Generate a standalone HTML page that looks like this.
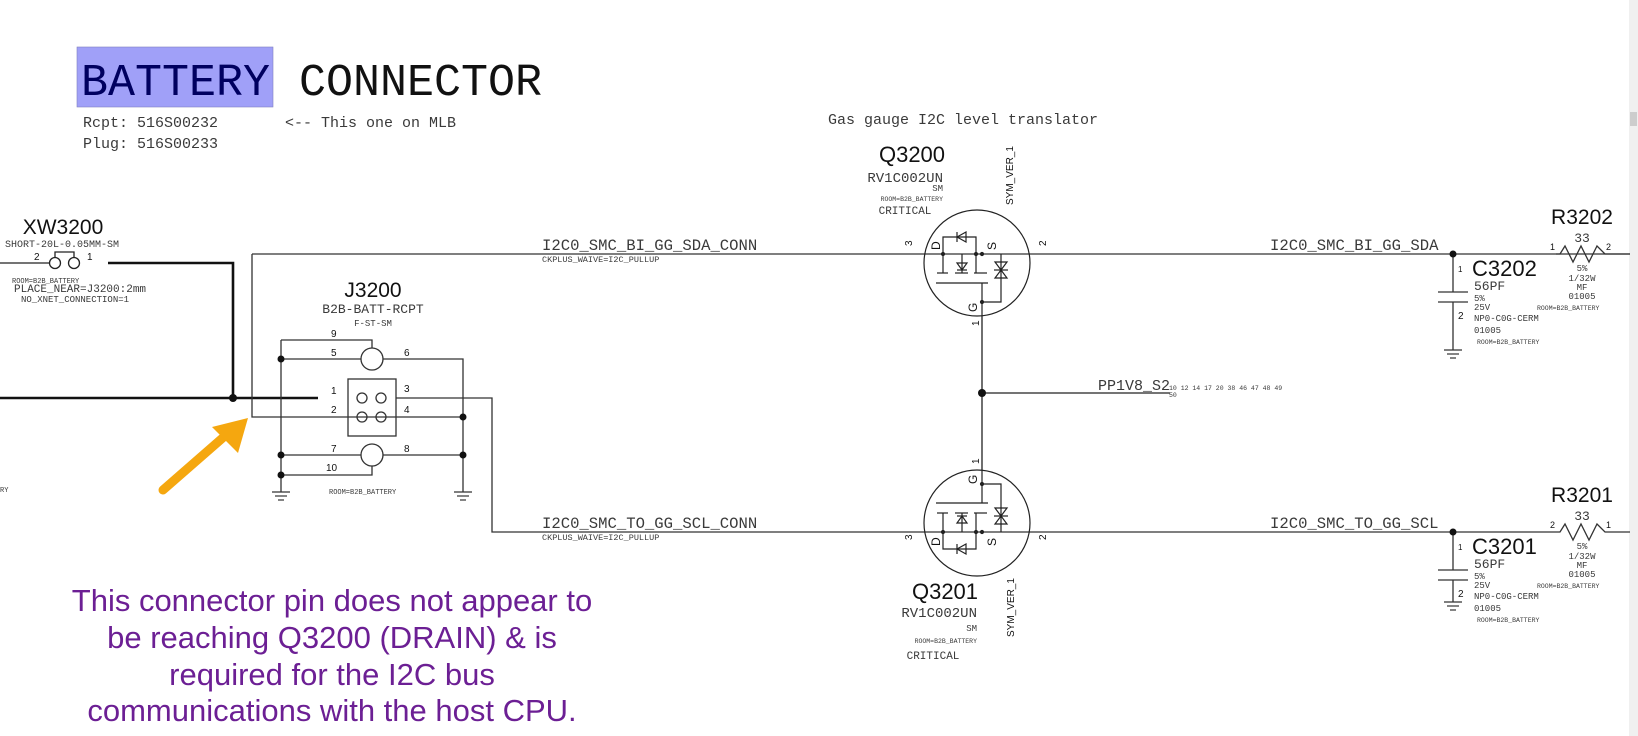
<!DOCTYPE html>
<html><head><meta charset="utf-8"><style>
html,body{margin:0;padding:0;background:#fff;width:1638px;height:736px;overflow:hidden}
svg{display:block}
.m{font-family:"Liberation Mono",monospace;fill:#3a3a3a}
.s{font-family:"Liberation Sans",sans-serif;fill:#111}
</style></head><body>
<svg width="1638" height="736" viewBox="0 0 1638 736" xmlns="http://www.w3.org/2000/svg">
<defs>
<g id="fet" fill="none" stroke="#222" stroke-width="1.2">
  <circle cx="977" cy="263" r="53"/>
  <polyline points="943,254 943,237 976,237 976,254"/>
  <polygon points="957,237 966,232 966,242" fill="none"/>
  <line x1="957" y1="232" x2="957" y2="242"/>
  <line x1="943" y1="254" x2="943" y2="273"/>
  <line x1="937" y1="273" x2="948" y2="273"/>
  <line x1="955" y1="273" x2="968" y2="273"/>
  <line x1="974" y1="273" x2="987" y2="273"/>
  <line x1="936" y1="283" x2="988" y2="283"/>
  <line x1="962" y1="254" x2="962" y2="273"/>
  <polygon points="957,263 967,263 962,270"/>
  <line x1="957" y1="270" x2="967" y2="270"/>
  <line x1="976" y1="254" x2="976" y2="273"/>
  <line x1="982" y1="283" x2="982" y2="316"/>
  <polyline points="982,302 1001,302 1001,254"/>
  <polygon points="995,262 1007,262 1001,270"/>
  <polygon points="995,278 1007,278 1001,270"/>
  <line x1="994" y1="270" x2="1008" y2="270"/>
  <circle cx="943" cy="254" r="1.5" fill="#222"/>
  <circle cx="976" cy="254" r="1.5" fill="#222"/>
  <circle cx="982" cy="254" r="1.5" fill="#222"/>
  <circle cx="982" cy="302" r="1.5" fill="#222"/>
</g>
<g id="gnd" stroke="#333" stroke-width="1.2">
  <line x1="-9" y1="0" x2="9" y2="0"/><line x1="-6" y1="4" x2="6" y2="4"/><line x1="-3" y1="8" x2="3" y2="8"/>
</g>
</defs>

<rect x="1629" y="0" width="9" height="736" fill="#f0f0f0"/>
<rect x="1630" y="112" width="7" height="14" fill="#cdcdcd"/>

<!-- Title -->
<rect x="77" y="47" width="196" height="60" fill="#a0a0f8" stroke="#8080c0" stroke-width="0.6"/>
<text x="81" y="95" style="font-family:'Liberation Mono',monospace;font-size:45px;fill:#000060">BATTERY</text>
<text x="299" y="95" style="font-family:'Liberation Mono',monospace;font-size:45px;fill:#111">CONNECTOR</text>
<text x="83" y="127" class="m" font-size="15">Rcpt: 516S00232</text>
<text x="83" y="148" class="m" font-size="15">Plug: 516S00233</text>
<text x="285" y="127" class="m" font-size="15">&lt;-- This one on MLB</text>
<text x="828" y="124" class="m" font-size="15">Gas gauge I2C level translator</text>

<!-- XW3200 -->
<text x="63" y="234" class="s" font-size="21" text-anchor="middle">XW3200</text>
<text x="5" y="247" class="m" font-size="10">SHORT-20L-0.05MM-SM</text>
<text x="34" y="260" class="s" font-size="10">2</text>
<text x="87" y="260" class="s" font-size="10">1</text>
<g fill="none" stroke="#222" stroke-width="1.3">
 <polyline points="55,258 55,252 74,252 74,258"/>
 <circle cx="55" cy="263" r="5.5"/><circle cx="74" cy="263" r="5.5"/>
 <line x1="0" y1="263" x2="49" y2="263"/>
</g>
<text x="12" y="283" class="m" font-size="7">ROOM=B2B_BATTERY</text>
<text x="14" y="292" class="m" font-size="11">PLACE_NEAR=J3200:2mm</text>
<text x="21" y="302" class="m" font-size="9">NO_XNET_CONNECTION=1</text>
<text x="0" y="492" class="m" font-size="7">RY</text>
<g fill="none" stroke="#111" stroke-width="2.6">
 <polyline points="108,263 233,263 233,398"/>
 <line x1="0" y1="398" x2="318" y2="398"/>
</g>
<circle cx="233" cy="398" r="4" fill="#111"/>

<!-- J3200 -->
<text x="373" y="297" class="s" font-size="21" text-anchor="middle">J3200</text>
<text x="373" y="313" class="m" font-size="13" text-anchor="middle">B2B-BATT-RCPT</text>
<text x="373" y="326" class="m" font-size="9" text-anchor="middle">F-ST-SM</text>
<g class="s" font-size="10">
<text x="331" y="337">9</text><text x="331" y="356">5</text><text x="404" y="356">6</text>
<text x="331" y="394">1</text><text x="331" y="413">2</text><text x="404" y="392">3</text><text x="404" y="413">4</text>
<text x="331" y="452">7</text><text x="326" y="471">10</text><text x="404" y="452">8</text>
</g>
<g fill="none" stroke="#333" stroke-width="1.3">
 <polyline points="252,254 252,417 463,417"/>
 <polyline points="281,340 372,340 372,348"/>
 <line x1="281" y1="359" x2="361" y2="359"/>
 <circle cx="372" cy="359" r="11"/>
 <polyline points="383,359 463,359 463,492"/>
 <line x1="281" y1="340" x2="281" y2="492"/>
 <rect x="348" y="379" width="48" height="57"/>
 <circle cx="362" cy="398" r="5"/><circle cx="381" cy="398" r="5"/>
 <circle cx="362" cy="417" r="5"/><circle cx="381" cy="417" r="5"/>
 <polyline points="396,398 492,398 492,532 1453,532"/>
 <line x1="281" y1="455" x2="361" y2="455"/>
 <circle cx="372" cy="455" r="11"/>
 <line x1="383" y1="455" x2="463" y2="455"/>
 <polyline points="281,475 372,475 372,466"/>
 <line x1="252" y1="254" x2="1630" y2="254"/>
</g>
<g fill="#111">
 <circle cx="281" cy="359" r="3.5"/><circle cx="281" cy="455" r="3.5"/><circle cx="281" cy="475" r="3.5"/>
 <circle cx="463" cy="417" r="3.5"/><circle cx="463" cy="455" r="3.5"/>
</g>
<use href="#gnd" transform="translate(281,492)"/>
<use href="#gnd" transform="translate(463,492)"/>
<text x="329" y="494" class="m" font-size="7">ROOM=B2B_BATTERY</text>

<!-- arrow -->
<g stroke="#f5a70f" stroke-width="9" stroke-linecap="round" fill="#f5a70f">
 <line x1="163" y1="490" x2="226" y2="435"/>
</g>
<polygon points="248,418 212,427 238,453" fill="#f5a70f"/>

<!-- net labels -->
<text x="542" y="250" class="m" font-size="15.6">I2C0_SMC_BI_GG_SDA_CONN</text>
<text x="542" y="262" class="m" font-size="8.5">CKPLUS_WAIVE=I2C_PULLUP</text>
<text x="542" y="528" class="m" font-size="15.6">I2C0_SMC_TO_GG_SCL_CONN</text>
<text x="542" y="540" class="m" font-size="8.5">CKPLUS_WAIVE=I2C_PULLUP</text>
<text x="1270" y="250" class="m" font-size="15.6">I2C0_SMC_BI_GG_SDA</text>
<text x="1270" y="528" class="m" font-size="15.6">I2C0_SMC_TO_GG_SCL</text>

<!-- Q3200 -->
<text x="912" y="162" class="s" font-size="22" text-anchor="middle">Q3200</text>
<text x="943" y="182" class="m" font-size="14" text-anchor="end">RV1C002UN</text>
<text x="943" y="191" class="m" font-size="9" text-anchor="end">SM</text>
<text x="943" y="201" class="m" font-size="6.5" text-anchor="end">ROOM=B2B_BATTERY</text>
<text x="905" y="214" class="m" font-size="11" text-anchor="middle">CRITICAL</text>
<text transform="translate(1013,205) rotate(-90)" class="s" font-size="10">SYM_VER_1</text>
<use href="#fet"/>
<g class="s" font-size="10">
<text transform="translate(912,246) rotate(-90)">3</text>
<text transform="translate(1046,246) rotate(-90)">2</text>
<text transform="translate(940,250) rotate(-90)" font-size="12">D</text>
<text transform="translate(996,250) rotate(-90)" font-size="12">S</text>
<text transform="translate(977,312) rotate(-90)" font-size="12">G</text>
<text transform="translate(979,326) rotate(-90)">1</text>
</g>
<g stroke="#222" stroke-width="1.3">
 <line x1="982" y1="316" x2="982" y2="470"/>
 <line x1="982" y1="393" x2="1170" y2="393"/>
</g>
<circle cx="982" cy="393" r="4" fill="#111"/>
<text x="1098" y="390" class="m" font-size="15">PP1V8_S2</text>
<text x="1169" y="390" class="m" font-size="6.5">10  12  14  17  20  38  46  47  48  49</text>
<text x="1169" y="397" class="m" font-size="6.5">50</text>

<!-- Q3201 -->
<use href="#fet" transform="translate(0,786) scale(1,-1)"/>
<g class="s" font-size="10">
<text transform="translate(912,540) rotate(-90)">3</text>
<text transform="translate(1046,540) rotate(-90)">2</text>
<text transform="translate(940,546) rotate(-90)" font-size="12">D</text>
<text transform="translate(996,546) rotate(-90)" font-size="12">S</text>
<text transform="translate(977,484) rotate(-90)" font-size="12">G</text>
<text transform="translate(979,464) rotate(-90)">1</text>
</g>
<text x="945" y="599" class="s" font-size="22" text-anchor="middle">Q3201</text>
<text x="977" y="617" class="m" font-size="14" text-anchor="end">RV1C002UN</text>
<text x="977" y="631" class="m" font-size="9" text-anchor="end">SM</text>
<text x="977" y="643" class="m" font-size="6.5" text-anchor="end">ROOM=B2B_BATTERY</text>
<text x="933" y="659" class="m" font-size="11" text-anchor="middle">CRITICAL</text>
<text transform="translate(1014,637) rotate(-90)" class="s" font-size="10">SYM_VER_1</text>

<!-- Right side: C3202/R3202 -->
<g fill="none" stroke="#333" stroke-width="1.3">
 <line x1="1453" y1="254" x2="1453" y2="292"/>
 <line x1="1438" y1="292" x2="1468" y2="292"/>
 <line x1="1438" y1="302" x2="1468" y2="302"/>
 <line x1="1453" y1="302" x2="1453" y2="350"/>
</g>
<use href="#gnd" transform="translate(1453,350)"/>
<circle cx="1453" cy="254" r="3.5" fill="#111"/>
<text x="1472" y="276" class="s" font-size="22">C3202</text>
<text x="1458" y="272" class="s" font-size="8">1</text>
<text x="1458" y="319" class="s" font-size="10">2</text>
<text x="1474" y="290" class="m" font-size="13">56PF</text>
<g class="m" font-size="9"><text x="1474" y="301">5%</text><text x="1474" y="310">25V</text><text x="1474" y="321">NP0-C0G-CERM</text><text x="1474" y="333">01005</text></g>
<text x="1477" y="344" class="m" font-size="6.5">ROOM=B2B_BATTERY</text>
<polyline points="1556,254 1560,254 1565,246 1573,262 1581,246 1589,262 1597,246 1605,254 1630,254" fill="none" stroke="#333" stroke-width="1.3"/>
<text x="1582" y="224" class="s" font-size="21" text-anchor="middle">R3202</text>
<text x="1582" y="242" class="m" font-size="13" text-anchor="middle">33</text>
<text x="1550" y="250" class="s" font-size="9">1</text><text x="1606" y="250" class="s" font-size="9">2</text>
<g class="m" font-size="9" text-anchor="middle"><text x="1582" y="271">5%</text><text x="1582" y="281">1/32W</text><text x="1582" y="290">MF</text><text x="1582" y="299">01005</text></g>
<text x="1537" y="310" class="m" font-size="6.5">ROOM=B2B_BATTERY</text>

<!-- C3201/R3201 -->
<g fill="none" stroke="#333" stroke-width="1.3">
 <line x1="1453" y1="532" x2="1453" y2="570"/>
 <line x1="1438" y1="570" x2="1468" y2="570"/>
 <line x1="1438" y1="580" x2="1468" y2="580"/>
 <line x1="1453" y1="580" x2="1453" y2="602"/>
 <line x1="1453" y1="532" x2="1556" y2="532"/>
</g>
<use href="#gnd" transform="translate(1453,602)"/>
<circle cx="1453" cy="532" r="3.5" fill="#111"/>
<text x="1472" y="554" class="s" font-size="22">C3201</text>
<text x="1458" y="550" class="s" font-size="8">1</text>
<text x="1458" y="597" class="s" font-size="10">2</text>
<text x="1474" y="568" class="m" font-size="13">56PF</text>
<g class="m" font-size="9"><text x="1474" y="579">5%</text><text x="1474" y="588">25V</text><text x="1474" y="599">NP0-C0G-CERM</text><text x="1474" y="611">01005</text></g>
<text x="1477" y="622" class="m" font-size="6.5">ROOM=B2B_BATTERY</text>
<polyline points="1556,532 1560,532 1565,524 1573,540 1581,524 1589,540 1597,524 1605,532 1630,532" fill="none" stroke="#333" stroke-width="1.3"/>
<text x="1582" y="502" class="s" font-size="21" text-anchor="middle">R3201</text>
<text x="1582" y="520" class="m" font-size="13" text-anchor="middle">33</text>
<text x="1550" y="528" class="s" font-size="9">2</text><text x="1606" y="528" class="s" font-size="9">1</text>
<g class="m" font-size="9" text-anchor="middle"><text x="1582" y="549">5%</text><text x="1582" y="559">1/32W</text><text x="1582" y="568">MF</text><text x="1582" y="577">01005</text></g>
<text x="1537" y="588" class="m" font-size="6.5">ROOM=B2B_BATTERY</text>

<!-- purple note -->
<g style="font-family:'Liberation Sans',sans-serif;font-size:31px;fill:#6c1f94" text-anchor="middle">
<text x="332" y="611">This connector pin does not appear to</text>
<text x="332" y="648">be reaching Q3200 (DRAIN) &amp; is</text>
<text x="332" y="685">required for the I2C bus</text>
<text x="332" y="721">communications with the host CPU.</text>
</g>
</svg>
</body></html>
